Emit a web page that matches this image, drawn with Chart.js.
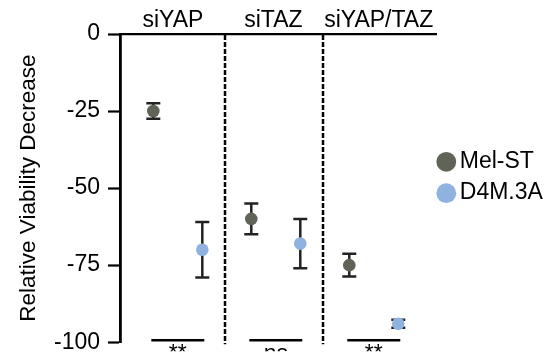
<!DOCTYPE html>
<html><head><meta charset="utf-8">
<script src="https://cdn.jsdelivr.net/npm/chart.js@4.4.1/dist/chart.umd.min.js"></script>
<style>html,body{margin:0;padding:0;background:#fff;overflow:hidden}canvas{display:block}</style>
</head><body>
<canvas id="c" width="550" height="364"></canvas>
<script>
// ---- data ----
const categories = ['siYAP', 'siTAZ', 'siYAP/TAZ'];
const seriesNames = ['Mel-ST', 'D4M.3A'];
const melST = [-25, -60, -75];
const melSTErr = [2.5, 5, 3.7];
const d4m = [-70, -68, -94];
const d4mErr = [9, 8, 1.3];
const significance = ['**', 'ns', '**'];
const yTickStep = 25;

// ---- styling ----
const FONT = "'Liberation Sans', Arial, Helvetica, sans-serif";
const MEL_COLOR = '#5f6457';
const D4M_COLOR = '#8fb2e1';
const errs = [melSTErr, d4mErr];
const toPoints = (vals, off) => vals.map((v, i) => ({x: i * 2 + off, y: v}));

const decorPlugin = {
  id: 'decor',
  beforeDatasetsDraw(chart) {
    const {ctx, scales: {x, y}} = chart;
    ctx.save();
    // dashed separators between groups
    ctx.strokeStyle = '#000';
    ctx.lineWidth = 2.5;
    ctx.setLineDash([5, 2]);
    for (let i = 1; i < categories.length; i++) {
      const px = Math.round(x.getPixelForValue(i * 2 - 0.54));
      ctx.beginPath();
      ctx.moveTo(px, y.top + 1);
      ctx.lineTo(px, y.bottom + 2);
      ctx.stroke();
    }
    ctx.setLineDash([]);
    // significance lines
    categories.forEach((c, i) => {
      const x1 = x.getPixelForValue(i * 2) - 2;
      const x2 = x.getPixelForValue(i * 2 + 1) + 2;
      const py = y.bottom - 2;
      ctx.beginPath();
      ctx.moveTo(x1, py);
      ctx.lineTo(x2, py);
      ctx.stroke();
    });
    // error bars
    ctx.strokeStyle = '#222';
    ctx.lineWidth = 2.5;
    chart.data.datasets.forEach((ds, di) => {
      ds.data.forEach((p, i) => {
        const e = errs[di][i];
        const px = x.getPixelForValue(p.x);
        const y1 = y.getPixelForValue(p.y + e);
        const y2 = y.getPixelForValue(p.y - e);
        ctx.beginPath();
        ctx.moveTo(px, y1); ctx.lineTo(px, y2);
        ctx.moveTo(px - 7, y1); ctx.lineTo(px + 7, y1);
        ctx.moveTo(px - 7, y2); ctx.lineTo(px + 7, y2);
        ctx.stroke();
      });
    });
    ctx.restore();
  }
};

const xMin = -0.68, xMax = 5.77;

new Chart(document.getElementById('c'), {
  type: 'scatter',
  data: {
    datasets: [
      {label: seriesNames[0], data: toPoints(melST, 0), backgroundColor: MEL_COLOR, borderColor: MEL_COLOR,
       borderWidth: 0, pointRadius: 6.3, pointStyle: 'circle', xAxisID: 'x', yAxisID: 'y'},
      {label: seriesNames[1], data: toPoints(d4m, 1), backgroundColor: D4M_COLOR, borderColor: D4M_COLOR,
       borderWidth: 0, pointRadius: 6.3, pointStyle: 'circle', xAxisID: 'x', yAxisID: 'y'}
    ]
  },
  options: {
    responsive: false,
    animation: false,
    devicePixelRatio: 1,
    events: [],
    layout: {padding: {top: 0, right: 0, bottom: 9, left: 0}},
    plugins: {
      tooltip: {enabled: false},
      legend: {
        position: 'right',
        align: 'center',
        maxWidth: 114,
        labels: {
          usePointStyle: true,
          pointStyle: 'circle',
          boxWidth: 4,
          boxHeight: 14,
          padding: 8.3,
          color: '#000',
          font: {family: FONT, size: 23}
        }
      }
    },
    scales: {
      x: {
        type: 'linear', position: 'top', min: xMin, max: xMax,
        grid: {display: false, drawTicks: false},
        border: {display: true, color: '#000', width: 2.2},
        ticks: {
          padding: 0, color: '#000', autoSkip: false, maxRotation: 0,
          font: {family: FONT, size: 23},
          callback: (v, i) => categories[i]
        },
        afterBuildTicks: s => { s.ticks = [0.4, 2.45, 4.6].map(v => ({value: v})); },
        afterFit: s => { s.height = 34; }
      },
      xb: {
        type: 'linear', position: 'bottom', min: xMin, max: xMax,
        grid: {display: false, drawTicks: false},
        border: {display: false},
        ticks: {
          padding: -1, color: '#000', autoSkip: false, maxRotation: 0,
          font: {family: FONT, size: 23},
          callback: (v, i) => significance[i]
        },
        afterBuildTicks: s => { s.ticks = categories.map((c, i) => ({value: i * 2 + 0.5})); },
        afterFit: s => { s.height = 9; }
      },
      y: {
        type: 'linear', position: 'left', min: -100, max: 0,
        ticks: {stepSize: yTickStep, color: '#000', padding: 8, font: {family: FONT, size: 23}},
        grid: {display: true, drawOnChartArea: false, drawTicks: true, tickLength: 12, tickWidth: 2.2, color: '#000'},
        border: {display: true, color: '#000', width: 2.8},
        title: {display: true, text: 'Relative Viability Decrease', color: '#000',
                font: {family: FONT, size: 22.5, lineHeight: 1}, padding: {top: 18, bottom: 0}},
        afterFit: s => { s.width = 120; }
      }
    }
  },
  plugins: [decorPlugin]
});
</script>
</body></html>
